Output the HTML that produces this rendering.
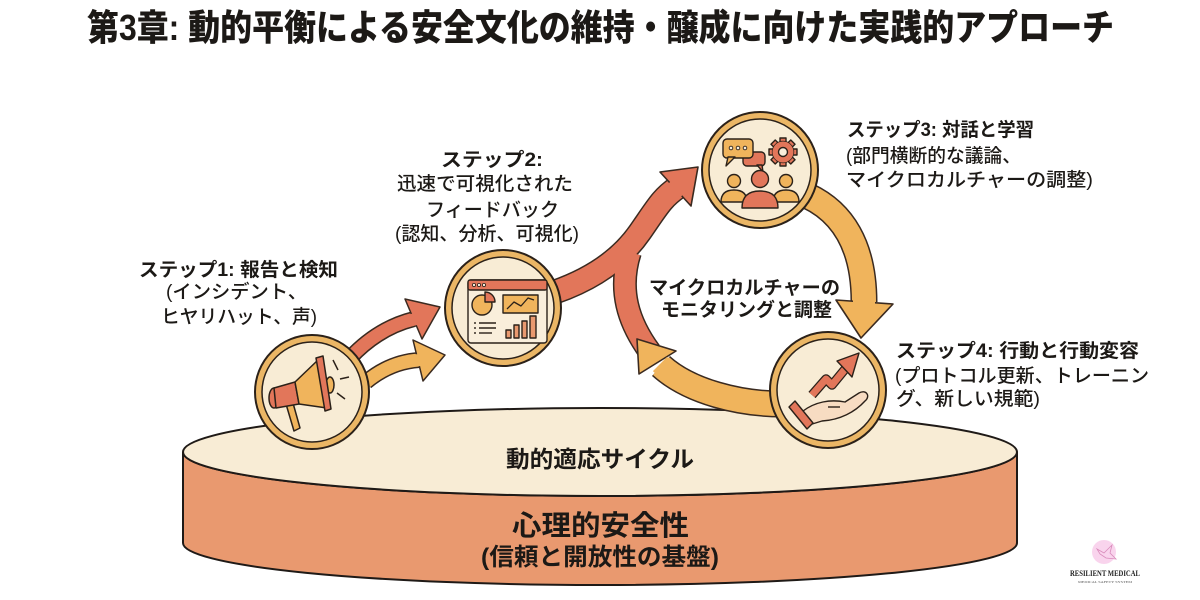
<!DOCTYPE html>
<html>
<head>
<meta charset="utf-8">
<style>
  html,body{margin:0;padding:0;background:#ffffff;}
  svg{display:block;}
  text{font-family:"Liberation Sans","Noto Sans CJK JP",sans-serif;fill:#1c1916;}
  .b{font-weight:700;}
  .m{font-weight:500;}
</style>
</head>
<body>
<svg width="1200" height="600" viewBox="0 0 1200 600" xmlns="http://www.w3.org/2000/svg">
  <rect width="1200" height="600" fill="#ffffff"/>

  <!-- Title -->
  <text x="87" y="40" font-size="36" style="font-weight:900" textLength="1027" lengthAdjust="spacingAndGlyphs">第3章: 動的平衡による安全文化の維持・醸成に向けた実践的アプローチ</text>

  <!-- Cylinder -->
  <path d="M183,452 L183,543 A417,42 0 0 0 1017,543 L1017,452 A417,44 0 0 1 183,452 Z" fill="#e9996f" stroke="#1f1a17" stroke-width="2"/>
  <ellipse cx="600" cy="452" rx="417" ry="44" fill="#f8ecd5" stroke="#1f1a17" stroke-width="2"/>

  <!-- Red arrows: big arrow from dashboard + left arc -->
  <g fill="none" stroke-linecap="butt" stroke-linejoin="round">
    <path d="M555,292 C595,278 622,258 640,232 S662,198 678,187" stroke="#3a2a20" stroke-width="25"/>
    <path d="M650,352 C628,322 618,290 630,252" stroke="#3a2a20" stroke-width="24"/>
    <path d="M555,292 C595,278 622,258 640,232 S662,198 678,187" stroke="#e2765a" stroke-width="22"/>
    <path d="M650,352 C628,322 618,290 630,252" stroke="#e2765a" stroke-width="21"/>
  </g>
  <polygon points="698,167 660,172 691,206" fill="#e2765a" stroke="#3a2a20" stroke-width="1.6" stroke-linejoin="round"/>
  <path d="M664,200 L678,187" stroke="#e2765a" stroke-width="18" fill="none"/>

  <!-- Orange right arc (people -> hand) -->
  <g fill="none">
    <path d="M808,196 C842,212 864,245 864,302" stroke="#3a2a20" stroke-width="27"/>
    <path d="M808,196 C842,212 864,245 864,302" stroke="#f0b45c" stroke-width="24"/>
  </g>
  <polygon points="861,338 836,300 893,304" fill="#f0b45c" stroke="#3a2a20" stroke-width="1.6" stroke-linejoin="round"/>
  <path d="M864,290 L864,304" stroke="#f0b45c" stroke-width="22" fill="none"/>

  <!-- Orange bottom arc (hand -> left) -->
  <g fill="none">
    <path d="M782,404 C740,404 690,392 661,366" stroke="#3a2a20" stroke-width="27"/>
    <path d="M782,404 C740,404 690,392 661,366" stroke="#f0b45c" stroke-width="24"/>
  </g>
  <polygon points="637,339 639,374 676,351" fill="#f0b45c" stroke="#3a2a20" stroke-width="1.6" stroke-linejoin="round"/>
  <path d="M672,376 L660,364" stroke="#f0b45c" stroke-width="20" fill="none"/>

  <!-- Megaphone arrows -->
  <g fill="none">
    <path d="M350,358 Q378,328 414,319" stroke="#3a2a20" stroke-width="16"/>
    <path d="M350,358 Q378,328 414,319" stroke="#e2765a" stroke-width="13"/>
  </g>
  <polygon points="440,307 405,299 422,339" fill="#e2765a" stroke="#3a2a20" stroke-width="1.5" stroke-linejoin="round"/>
  <path d="M404,322 L416,319" stroke="#e2765a" stroke-width="12"/>
  <g fill="none">
    <path d="M366,382 Q390,362 419,360" stroke="#3a2a20" stroke-width="16"/>
    <path d="M366,382 Q390,362 419,360" stroke="#f0b45c" stroke-width="13"/>
  </g>
  <polygon points="445,355 413,340 423,381" fill="#f0b45c" stroke="#3a2a20" stroke-width="1.5" stroke-linejoin="round"/>
  <path d="M408,361 L420,360" stroke="#f0b45c" stroke-width="12"/>

  <!-- Node circles -->
  <g stroke="#2b2119">
    <circle cx="312" cy="392" r="57" fill="#ebb665" stroke-width="2"/>
    <circle cx="312" cy="392" r="50" fill="#f8ecd5" stroke-width="1.5"/>
    <circle cx="503" cy="308" r="58" fill="#ebb665" stroke-width="2"/>
    <circle cx="503" cy="308" r="51" fill="#f8ecd5" stroke-width="1.5"/>
    <circle cx="760" cy="170" r="58" fill="#ebb665" stroke-width="2"/>
    <circle cx="760" cy="170" r="51" fill="#f8ecd5" stroke-width="1.5"/>
    <circle cx="828" cy="390" r="58" fill="#ebb665" stroke-width="2"/>
    <circle cx="828" cy="390" r="51" fill="#f8ecd5" stroke-width="1.5"/>
  </g>

  <!-- Megaphone icon -->
  <g stroke="#2b2119" stroke-width="1.5" stroke-linejoin="round">
    <polygon points="286,404 293,403 300,428 294,431" fill="#f0b45c"/>
    <ellipse cx="274" cy="398" rx="5" ry="10" fill="#e2765a"/>
    <polygon points="274,388 295,382 299,404 276,408" fill="#e2765a"/>
    <polygon points="295,382 318,360 327,408 299,404" fill="#f0b45c"/>
    <ellipse cx="330" cy="385" rx="4" ry="8" fill="#f0b45c"/>
    <polygon points="316,358 323,356 331,409 325,411" fill="#e2765a"/>
    <line x1="333" y1="360" x2="338" y2="370" fill="none"/>
    <line x1="340" y1="379" x2="349" y2="377" fill="none"/>
    <line x1="337" y1="393" x2="345" y2="399" fill="none"/>
  </g>

  <!-- Dashboard icon -->
  <g stroke="#2b2119" stroke-width="1.4" stroke-linejoin="round">
    <rect x="468" y="280" width="79" height="63" rx="3" fill="#f9eedb"/>
    <rect x="468" y="280" width="79" height="10" rx="2" fill="#e2765a"/>
    <circle cx="474" cy="285" r="1.6" fill="#f9eedb" stroke-width="0.8"/>
    <circle cx="479" cy="285" r="1.6" fill="#f9eedb" stroke-width="0.8"/>
    <circle cx="484" cy="285" r="1.6" fill="#f9eedb" stroke-width="0.8"/>
    <circle cx="482" cy="305" r="10" fill="#f0b45c"/>
    <path d="M485,302 L485,292 A10,10 0 0 1 495,302 Z" fill="#e2765a"/>
    <rect x="503" y="295" width="35" height="18" fill="#f0b45c"/>
    <polyline points="507,309 514,302 521,306 528,298 534,300" fill="none" stroke-width="1.3"/>
    <line x1="479" y1="323" x2="496" y2="323"/>
    <line x1="479" y1="328" x2="496" y2="328"/>
    <line x1="479" y1="333" x2="492" y2="333"/>
    <line x1="474" y1="323" x2="476" y2="323"/>
    <line x1="474" y1="328" x2="476" y2="328"/>
    <line x1="474" y1="333" x2="476" y2="333"/>
    <rect x="506" y="330" width="5" height="8" fill="#e9996f"/>
    <rect x="514" y="325" width="5" height="13" fill="#e9996f"/>
    <rect x="522" y="321" width="5" height="17" fill="#e9996f"/>
    <rect x="530" y="316" width="6" height="22" fill="#e9996f"/>
  </g>

  <!-- People / dialog icon -->
  <g stroke="#2b2119" stroke-width="1.4" stroke-linejoin="round">
    <rect x="743" y="152" width="22" height="14" rx="4" fill="#e2765a"/>
    <polygon points="757,165 763,172 762,165" fill="#e2765a"/>
    <rect x="723" y="139" width="30" height="19" rx="4" fill="#f0b45c"/>
    <polygon points="728,157 726,166 735,157" fill="#f0b45c"/>
    <circle cx="731" cy="148" r="1.8" fill="#f9eedb" stroke-width="0.9"/>
    <circle cx="738" cy="148" r="1.8" fill="#f9eedb" stroke-width="0.9"/>
    <circle cx="745" cy="148" r="1.8" fill="#f9eedb" stroke-width="0.9"/>
    <g transform="translate(783,152)" fill="#e2765a">
      <rect x="-3" y="-14" width="6" height="28" />
      <rect x="-3" y="-14" width="6" height="28" transform="rotate(45)"/>
      <rect x="-3" y="-14" width="6" height="28" transform="rotate(90)"/>
      <rect x="-3" y="-14" width="6" height="28" transform="rotate(135)"/>
      <circle r="10.5"/>
      <circle r="10.5" stroke="none"/>
      <circle r="4.5" fill="#f9eedb"/>
    </g>
    <circle cx="734" cy="181" r="6.5" fill="#f0b45c"/>
    <path d="M721,202 Q721,190 734,190 Q747,190 747,202 Z" fill="#f0b45c"/>
    <circle cx="786" cy="181" r="6.5" fill="#f0b45c"/>
    <path d="M773,202 Q773,190 786,190 Q799,190 799,202 Z" fill="#f0b45c"/>
    <circle cx="760" cy="179" r="8.5" fill="#e2765a"/>
    <path d="M742,208 Q742,191 760,191 Q778,191 778,208 Z" fill="#e2765a"/>
  </g>

  <!-- Hand + growth arrow icon -->
  <g stroke="#2b2119" stroke-width="1.4" stroke-linejoin="round">
    <path d="M812,395 L826,379 L832,385 L846,368" fill="none" stroke-width="9.5"/>
    <path d="M812,395 L826,379 L832,385 L846,368" fill="none" stroke="#e2765a" stroke-width="7"/>
    <polygon points="859,353 837,361 852,377" fill="#e2765a"/>
    <path d="M803,411 C815,402 830,399 845,402 L859,393 C866,389 871,396 865,401 C855,412 840,420 822,421 L809,425 Z" fill="#f7dcc2"/>
    <line x1="828" y1="407" x2="840" y2="407"/>
    <polygon points="795,401 813,423 807,429 789,407" fill="#e2765a"/>
  </g>

  <!-- Step 1 label -->
  <text x="139" y="276" font-size="19" class="b" textLength="199" lengthAdjust="spacingAndGlyphs">ステップ1: 報告と検知</text>
  <text x="166" y="298" font-size="19" class="m" textLength="141" lengthAdjust="spacingAndGlyphs">(インシデント、</text>
  <text x="161" y="323" font-size="19" class="m" textLength="156" lengthAdjust="spacingAndGlyphs">ヒヤリハット、声)</text>

  <!-- Step 2 label -->
  <text x="441" y="166" font-size="19" class="b" textLength="102" lengthAdjust="spacingAndGlyphs">ステップ2:</text>
  <text x="397" y="190" font-size="19" class="m" textLength="176" lengthAdjust="spacingAndGlyphs">迅速で可視化された</text>
  <text x="426" y="216" font-size="19" class="m" textLength="133" lengthAdjust="spacingAndGlyphs">フィードバック</text>
  <text x="395" y="240" font-size="19" class="m" textLength="184" lengthAdjust="spacingAndGlyphs">(認知、分析、可視化)</text>

  <!-- Step 3 label -->
  <text x="847" y="136" font-size="19" class="b" textLength="187" lengthAdjust="spacingAndGlyphs">ステップ3: 対話と学習</text>
  <text x="846" y="162" font-size="19" class="m" textLength="175" lengthAdjust="spacingAndGlyphs">(部門横断的な議論、</text>
  <text x="846" y="186" font-size="19" class="m" textLength="247" lengthAdjust="spacingAndGlyphs">マイクロカルチャーの調整)</text>

  <!-- Step 4 label -->
  <text x="896" y="357" font-size="19" class="b" textLength="243" lengthAdjust="spacingAndGlyphs">ステップ4: 行動と行動変容</text>
  <text x="895" y="382" font-size="19" class="m" textLength="254" lengthAdjust="spacingAndGlyphs">(プロトコル更新、トレーニン</text>
  <text x="896" y="405" font-size="19" class="m" textLength="144" lengthAdjust="spacingAndGlyphs">グ、新しい規範)</text>

  <!-- Center label -->
  <text x="649" y="294" font-size="19" class="b" textLength="191" lengthAdjust="spacingAndGlyphs">マイクロカルチャーの</text>
  <text x="661" y="316" font-size="19" class="b" textLength="171" lengthAdjust="spacingAndGlyphs">モニタリングと調整</text>

  <!-- Cylinder labels -->
  <text x="506" y="467" font-size="23" class="b" textLength="188" lengthAdjust="spacingAndGlyphs">動的適応サイクル</text>
  <text x="512" y="535" font-size="28" class="b" textLength="177" lengthAdjust="spacingAndGlyphs">心理的安全性</text>
  <text x="481" y="565" font-size="24" class="b" textLength="238" lengthAdjust="spacingAndGlyphs">(信頼と開放性の基盤)</text>

  <!-- Logo -->
  <circle cx="1104" cy="552" r="12" fill="#f8cdea" opacity="0.85"/>
  <path d="M1097,549 L1104,553 L1112,545 L1110,553 L1116,559 L1106,558 L1100,554 Z" fill="none" stroke="#d98abb" stroke-width="0.8"/>
  <text x="1070" y="576" font-size="8.5" textLength="70" lengthAdjust="spacingAndGlyphs" style="font-family:'Liberation Serif',serif;font-weight:700;fill:#222;">RESILIENT MEDICAL</text>
  <text x="1078" y="583" font-size="3.5" textLength="54" lengthAdjust="spacingAndGlyphs" style="font-family:'Liberation Serif',serif;fill:#555;">MEDICAL SAFETY SYSTEM</text>
</svg>
</body>
</html>
